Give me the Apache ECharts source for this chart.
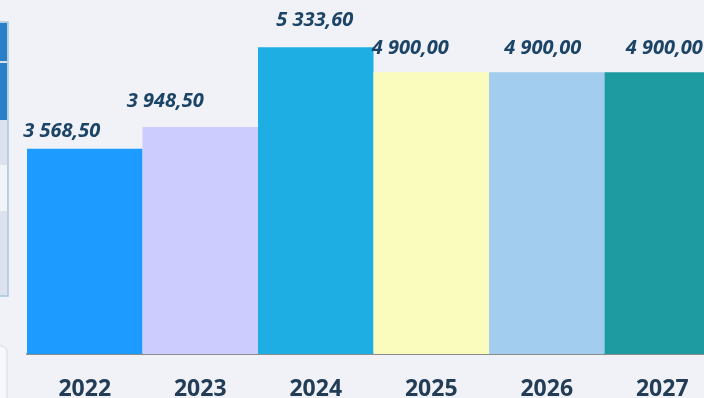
<!DOCTYPE html>
<html>
<head>
<meta charset="utf-8">
<script src="https://cdn.jsdelivr.net/npm/echarts@6/dist/echarts.min.js"></script>
<style>
  html, body { margin: 0; padding: 0; background: #f0f2f7; }
  #chart { width: 704px; height: 398px; }
</style>
</head>
<body>
<div id="chart"></div>
<script>
// data
var years = ['2022', '2023', '2024', '2025', '2026', '2027'];
var amounts = [3568.5, 3948.5, 5333.6, 4900, 4900, 4900];
var barColors = ['#1e9bff', '#ccccff', '#1eaee3', '#f9fcbc', '#a3cdee', '#1e9ba0'];

// labels sit a bit off-centre in the original
var labelShift = [[-23, -3], [-35, -11], [-1, -12], [-21, -9], [-4, -9], [2, -9]];

function fmt(v) {
  var parts = v.toFixed(2).split('.');
  return parts[0].replace(/\B(?=(\d{3})+(?!\d))/g, ' ') + ',' + parts[1];
}

var chart = echarts.init(document.getElementById('chart'));

var option = {
  backgroundColor: '#f0f2f7',
  animation: false,
  // the last bar runs past the right edge in the original
  grid: { left: 27, width: 693, top: 9, bottom: 44, outerBoundsMode: 'none', containLabel: false },
  xAxis: {
    type: 'category',
    data: years,
    axisTick: { show: false },
    axisLine: { lineStyle: { color: '#8c8c8c', width: 2 } },
    axisLabel: {
      margin: 24,
      fontFamily: 'Open Sans',
      fontWeight: 'bold',
      fontSize: 23,
      color: '#233d56'
    }
  },
  yAxis: {
    type: 'value',
    min: 0,
    max: 6000,
    show: false,
    splitLine: { show: false }
  },
  graphic: [
    { type: 'rect', shape: { x: -4, y: 22, width: 12, height: 274 }, style: { fill: '#dde3ee', stroke: '#a9c6de', lineWidth: 1.5 } },
    { type: 'rect', shape: { x: -4, y: 23, width: 11, height: 38 }, style: { fill: '#2980c6' } },
    { type: 'rect', shape: { x: -4, y: 63, width: 11, height: 57 }, style: { fill: '#2a80c6' } },
    { type: 'rect', shape: { x: -4, y: 165, width: 11, height: 46 }, style: { fill: '#f1f4f9' } },
    { type: 'rect', shape: { x: -10, y: 346, width: 17, height: 60, r: 6 }, style: { fill: '#f6f8fb', stroke: '#d4dbe6', lineWidth: 1 } }
  ],
  series: [{
    type: 'bar',
    barCategoryGap: 0,
    data: amounts.map(function (v, i) {
      return {
        value: v,
        itemStyle: { color: barColors[i] },
        label: { offset: labelShift[i] }
      };
    }),
    label: {
      show: true,
      position: 'top',
      fontFamily: 'Open Sans',
      fontWeight: 'bold',
      fontStyle: 'italic',
      fontSize: 20,
      color: '#1c4466',
      formatter: function (p) { return fmt(p.value); }
    }
  }]
};

chart.setOption(option);
</script>
</body>
</html>
